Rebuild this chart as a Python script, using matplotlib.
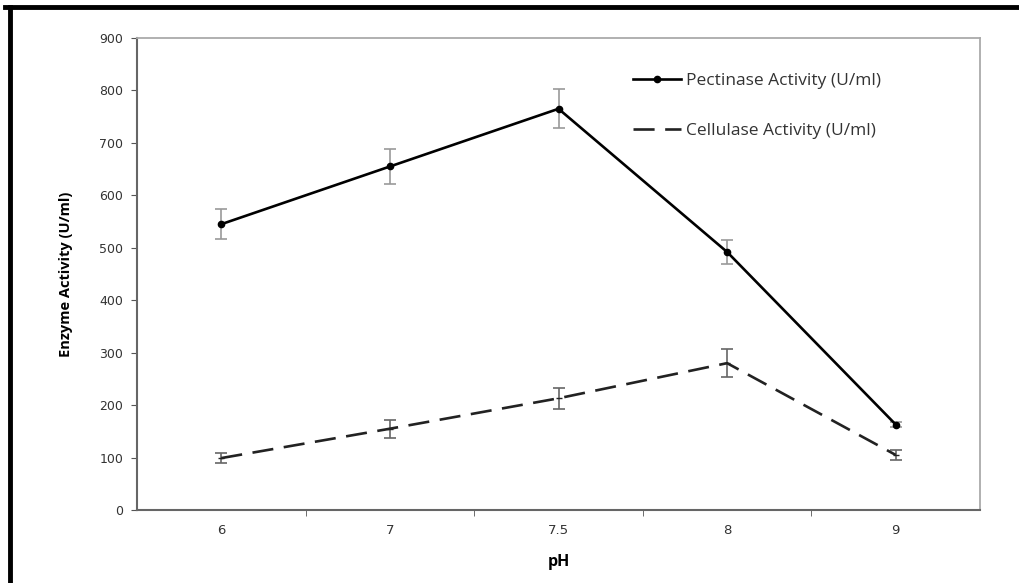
import matplotlib
matplotlib.use("Agg")
import matplotlib.pyplot as plt
from matplotlib.lines import Line2D
import numpy as np

categories = ["6", "7", "7.5", "8", "9"]
pectinase = [545, 655, 765, 492, 163]
pectinase_err = [28, 33, 37, 23, 5]
cellulase = [99, 155, 213, 280, 105]
cellulase_err = [10, 17, 20, 27, 10]
yticks = [0, 100, 200, 300, 400, 500, 600, 700, 800, 900]

W, H = 1019, 583
fig = plt.figure(figsize=(W / 100, H / 100), dpi=100)
ax = fig.add_axes([137 / W, 1 - 510 / H, (980 - 137) / W, (510 - 38) / H])

x = np.arange(len(categories))
ax.errorbar(x, pectinase, yerr=pectinase_err, color="black", lw=1.9,
            marker="o", ms=4.5, ecolor="#999999", elinewidth=1.2, capsize=4,
            capthick=1.2, zorder=3)
ax.errorbar(x, cellulase, yerr=cellulase_err, color="#222222", lw=1.9,
            dashes=(8, 4), marker="_", ms=5, ecolor="#666666", elinewidth=1.2,
            capsize=4, capthick=1.2, zorder=3)

ax.set_xlim(-0.5, len(categories) - 0.5)
ax.set_ylim(0, 900)
ax.set_yticks(yticks)
ax.set_yticklabels([str(v) for v in yticks], fontsize=9, color="#333333",
                   family="DejaVu Sans")
ax.set_xticks(x)
ax.set_xticklabels(categories, fontsize=9.5, color="#333333")
ax.set_xticks(np.arange(len(categories) - 1) + 0.5, minor=True)
ax.tick_params(axis="x", which="major", length=0, pad=10)
ax.tick_params(axis="x", which="minor", length=4, direction="out", color="#555555")
ax.tick_params(axis="y", length=4, direction="out", color="#555555", pad=6)

for s in ["left", "bottom"]:
    ax.spines[s].set_color("#666666")
    ax.spines[s].set_linewidth(1.5)
for s in ["top", "right"]:
    ax.spines[s].set_color("#aaaaaa")
    ax.spines[s].set_linewidth(1.3)

ax.set_ylabel("Enzyme Activity (U/ml)", fontsize=10.5, fontweight="bold",
              family="Open Sans", labelpad=19)
ax.set_xlabel("pH", fontsize=11.5, fontweight="bold", family="Open Sans", labelpad=12)

handles = [
    Line2D([], [], color="black", lw=1.9, marker="o", ms=4.5),
    Line2D([], [], color="#222222", lw=1.9, dashes=(8, 4)),
]
leg = ax.legend(handles, ["Pectinase Activity (U/ml)", "Cellulase Activity (U/ml)"],
                loc="upper left", bbox_to_anchor=(0.588, 0.926), frameon=False,
                borderpad=0, borderaxespad=0,
                labelspacing=1.95, handlelength=2.8, handletextpad=0.25,
                prop={"family": "Open Sans", "size": 12.5})
for t in leg.get_texts():
    t.set_color("#333333")

# outer black frame (top and left visible)
fig.add_artist(Line2D([5 / W, 1], [1 - 7 / H, 1 - 7 / H], color="black", lw=3.5,
                      transform=fig.transFigure))
fig.add_artist(Line2D([10 / W, 10 / W], [0, 1 - 7 / H], color="black", lw=3.5,
                      transform=fig.transFigure))

fig.savefig("out.png", dpi=100)
